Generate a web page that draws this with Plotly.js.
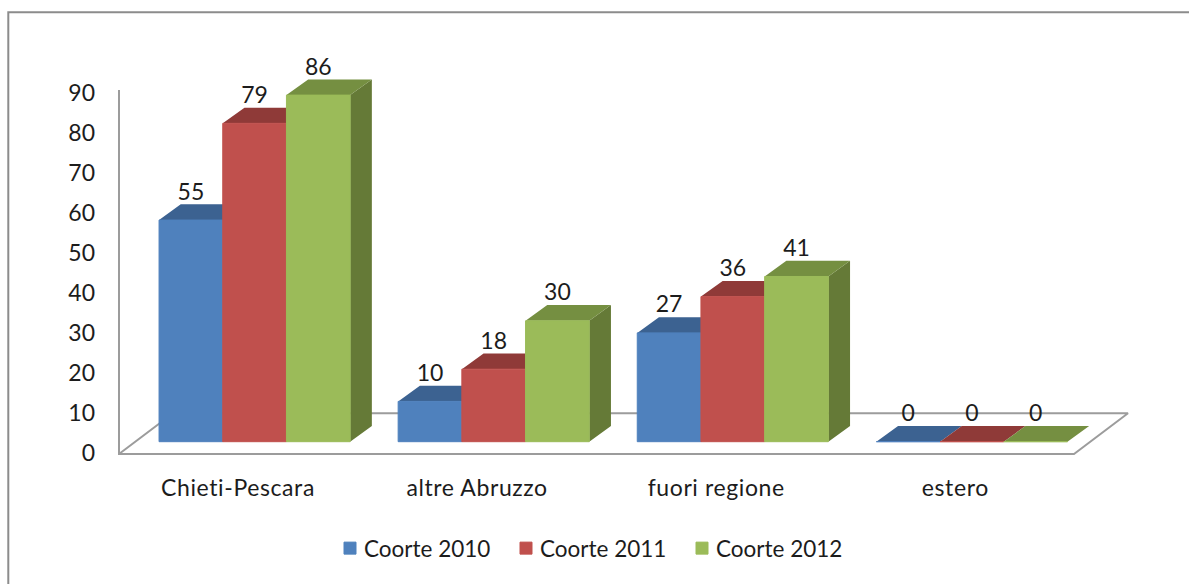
<!DOCTYPE html>
<html>
<head>
<meta charset="utf-8">
<script src="https://cdn.plot.ly/plotly-3.0.1.min.js"></script>
<style>
html,body{margin:0;padding:0;background:#fff;overflow:hidden}
#chart text{font-variant-ligatures:none}
#chart .xtick text{letter-spacing:.6px}
</style>
</head>
<body>
<div id="chart" style="width:1189px;height:584px"></div>
<script>
// ---- data ----
var categories = ["Chieti-Pescara", "altre Abruzzo", "fuori regione", "estero"];
var coorte2010 = [55, 10, 27, 0];
var coorte2011 = [79, 18, 36, 0];
var coorte2012 = [86, 30, 41, 0];
var seriesNames = ["Coorte 2010", "Coorte 2011", "Coorte 2012"];
var yTicks = [0, 10, 20, 30, 40, 50, 60, 70, 80, 90];

// ---- styling ----
var frontColors = ["#4F81BD", "#C0504D", "#9BBB59"];
var topColors = ["#3C6291", "#8F3A38", "#758F41"];
var sideColors = ["#335379", "#7A3230", "#657A37"];
var FONT = "Lato, 'Open Sans', sans-serif";
var W = 1189, H = 584;

// px geometry of the pseudo-3D projection
var catStep = 239.1, labelX0 = 238, frontX0 = 254.6;
var axisZero = 453, axisScale = 4.0;
var frontZero = 441.7, frontScale = 4.03;
var barPx = 63.7, depthX = 21.7, depthY = 15.7, labelGap = 10.5;

var barW = barPx / catStep, dX = depthX / catStep, dY = depthY / frontScale;
var series = [coorte2010, coorte2011, coorte2012];
var traces = [];

// helpers for the back axes (pixel -> axis units)
function bx(px) { return (px - labelX0) / catStep; }
function by(py) { return (axisZero - py) / axisScale; }

// floor and value-axis line
var frame = [[119, 90], [119, 454], [1074, 454], [1128, 413.3], [173, 413.3], [119, 454]];
traces.push({
  x: frame.map(function (p) { return bx(p[0]); }),
  y: frame.map(function (p) { return by(p[1]); }),
  xaxis: "x", yaxis: "y", mode: "lines",
  line: { color: "#9C9C9C", width: 2 },
  showlegend: false, hoverinfo: "skip"
});

// top and side faces
series.forEach(function (vals, s) {
  var tx = [], ty = [], sx = [], sy = [];
  vals.forEach(function (v, i) {
    var l = i + (s - 1.5) * barW, r = l + barW;
    tx.push(l, r, r + dX, l + dX, l, null);
    ty.push(v, v, v + dY, v + dY, v, null);
    sx.push(r, r + dX, r + dX, r, r, null);
    sy.push(0, dY, v + dY, v, 0, null);
  });
  traces.push({ x: sx, y: sy, xaxis: "x2", yaxis: "y2", mode: "lines", fill: "toself",
    fillcolor: sideColors[s], line: { width: 0 }, showlegend: false, hoverinfo: "skip" });
  traces.push({ x: tx, y: ty, xaxis: "x2", yaxis: "y2", mode: "lines", fill: "toself",
    fillcolor: topColors[s], line: { width: 0 }, showlegend: false, hoverinfo: "skip" });
});

// front faces
series.forEach(function (vals, s) {
  traces.push({
    type: "bar", name: seriesNames[s], x: categories, y: vals,
    xaxis: "x3", yaxis: "y3",
    marker: { color: frontColors[s], line: { color: frontColors[s], width: 1 } }
  });
});

// value labels
series.forEach(function (vals, s) {
  traces.push({
    x: vals.map(function (v, i) { return i + (s - 1) * barW; }),
    y: vals.map(function (v) { return v + dY + labelGap / frontScale; }),
    text: vals.map(String), mode: "text", textposition: "middle center",
    textfont: { family: FONT, size: 23, color: "#1c1c1c" },
    xaxis: "x2", yaxis: "y4", showlegend: false, hoverinfo: "skip"
  });
});

var frontXRange = [(0 - frontX0) / catStep, (W - frontX0) / catStep];
var frontYRange = [(frontZero - H) / frontScale, frontZero / frontScale];

var layout = {
  width: W, height: H, autosize: false,
  margin: { l: 0, r: 0, t: 0, b: 0, pad: 0 },
  paper_bgcolor: "#fff", plot_bgcolor: "rgba(0,0,0,0)",
  barmode: "group", bargap: 1 - 3 * barW, bargroupgap: 0,
  font: { family: FONT, size: 23, color: "#1c1c1c" },
  xaxis: {
    range: [bx(0), bx(W)], anchor: "free", position: (H - 454) / H,
    tickmode: "array", tickvals: [0, 1, 2, 3], ticktext: categories,
    showgrid: false, zeroline: false, showline: false, ticks: "",
    ticklabelstandoff: 18, tickfont: { family: FONT, size: 23, color: "#1c1c1c" }
  },
  yaxis: {
    range: [by(H), by(0)], anchor: "free", position: 119 / W,
    tickmode: "array", tickvals: yTicks,
    showgrid: false, zeroline: false, showline: false, ticks: "",
    ticklabelstandoff: 24, tickfont: { family: FONT, size: 23, color: "#1c1c1c" }
  },
  xaxis2: { range: frontXRange, overlaying: "x", anchor: "y2", visible: false },
  yaxis2: { range: frontYRange, overlaying: "y", anchor: "x2", visible: false },
  xaxis3: { type: "category", categoryorder: "array", categoryarray: categories,
            range: frontXRange, overlaying: "x", anchor: "y3", visible: false },
  yaxis3: { range: frontYRange, overlaying: "y", anchor: "x3", visible: false },
  yaxis4: { range: frontYRange, overlaying: "y", anchor: "x2", visible: false },
  legend: {
    orientation: "h", x: 330 / W, xanchor: "left", y: 1 - 548.5 / H, yanchor: "middle",
    entrywidth: 131, entrywidthmode: "pixels", traceorder: "normal",
    font: { family: FONT, size: 22.5, color: "#1c1c1c" }, bgcolor: "rgba(0,0,0,0)"
  },
  shapes: [{
    type: "path", xref: "paper", yref: "paper", layer: "below",
    path: "M " + (8.3 / W) + "," + 0 + " L " + (8.3 / W) + "," + (1 - 12.3 / H) + " L 1," + (1 - 12.3 / H),
    line: { color: "#8C8C8C", width: 2 }
  }],
  showlegend: true
};

Plotly.newPlot("chart", traces, layout, { displayModeBar: false, staticPlot: true }).then(function () {
  // tighten the gap between legend swatch and label
  document.querySelectorAll("#chart .legendtext").forEach(function (t) {
    t.setAttribute("x", parseFloat(t.getAttribute("x")) - 6);
  });
});
</script>
</body>
</html>
